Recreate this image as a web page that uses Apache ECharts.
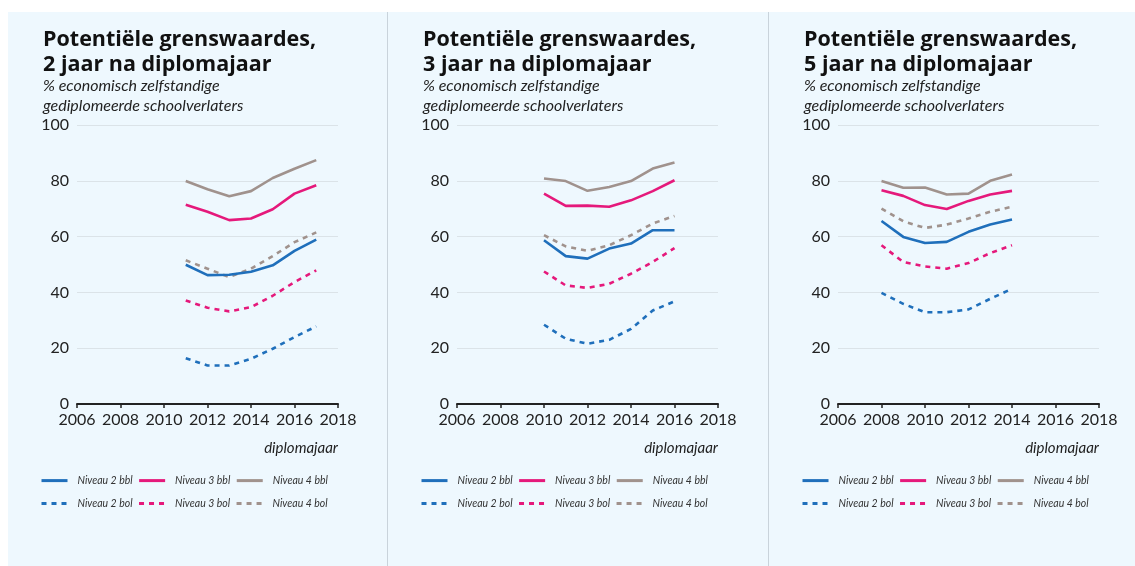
<!DOCTYPE html>
<html>
<head>
<meta charset="utf-8">
<script src="https://cdn.jsdelivr.net/npm/echarts@6/dist/echarts.min.js"></script>
<style>
html,body{margin:0;padding:0;background:#ffffff;}
#c{width:1135px;height:566px;}
</style>
</head>
<body>
<div id="c"></div>
<script>
// ---------- data ----------
const panelTitles = ["Potentiële grenswaardes,\n2 jaar na diplomajaar",
                     "Potentiële grenswaardes,\n3 jaar na diplomajaar",
                     "Potentiële grenswaardes,\n5 jaar na diplomajaar"];
const subTitle = "% economisch zelfstandige\ngediplomeerde schoolverlaters";
const xAxisName = "diplomajaar";
const seriesNames = ["Niveau 2 bbl", "Niveau 3 bbl", "Niveau 4 bbl", "Niveau 2 bol", "Niveau 3 bol", "Niveau 4 bol"];

const years2 = [2011, 2012, 2013, 2014, 2015, 2016, 2017];
const p2_n2bbl = [49.9, 46.2, 46.3, 47.4, 49.7, 54.9, 58.9];
const p2_n3bbl = [71.4, 68.9, 65.9, 66.5, 69.8, 75.4, 78.4];
const p2_n4bbl = [79.9, 77.0, 74.5, 76.3, 81.0, 84.3, 87.4];
const p2_n2bol = [16.4, 13.8, 13.8, 16.2, 19.8, 24.0, 27.8];
const p2_n3bol = [37.1, 34.5, 33.2, 34.7, 38.8, 43.7, 47.9];
const p2_n4bol = [51.5, 48.5, 45.5, 48.5, 53.0, 58.0, 61.5];

const years3 = [2010, 2011, 2012, 2013, 2014, 2015, 2016];
const p3_n2bbl = [58.7, 53.0, 52.1, 55.7, 57.5, 62.3, 62.3];
const p3_n3bbl = [75.4, 71.0, 71.1, 70.7, 73.0, 76.3, 80.2];
const p3_n4bbl = [80.8, 79.9, 76.4, 77.8, 79.9, 84.4, 86.6];
const p3_n2bol = [28.4, 23.4, 21.6, 23.0, 26.9, 33.5, 36.8];
const p3_n3bol = [47.5, 42.5, 41.6, 43.1, 46.7, 50.9, 55.9];
const p3_n4bol = [60.5, 56.5, 54.9, 56.9, 60.5, 64.7, 67.4];

const years5 = [2008, 2009, 2010, 2011, 2012, 2013, 2014];
const p5_n2bbl = [65.6, 59.9, 57.7, 58.1, 61.7, 64.3, 66.1];
const p5_n3bbl = [76.6, 74.6, 71.3, 69.9, 72.8, 75.1, 76.4];
const p5_n4bbl = [79.9, 77.5, 77.6, 75.1, 75.4, 80.0, 82.3];
const p5_n2bol = [39.8, 35.9, 32.9, 32.9, 33.9, 37.7, 41.3];
const p5_n3bol = [56.9, 50.9, 49.3, 48.5, 50.5, 54.1, 56.9];
const p5_n4bol = [70.0, 65.5, 63.1, 64.3, 66.5, 68.9, 70.7];

const xTicks = [2006, 2008, 2010, 2012, 2014, 2016, 2018];
const yTicks = [0, 20, 40, 60, 80, 100];

// ---------- styling ----------
const FONT = "Lato";
const TFONT = "Open Sans";
const colors = ["#1f6fbb", "#e5197b", "#a0928d", "#1f6fbb", "#e5197b", "#a0928d"];
const panels = [
  {years: years2, vals: [p2_n2bbl, p2_n3bbl, p2_n4bbl, p2_n2bol, p2_n3bol, p2_n4bol]},
  {years: years3, vals: [p3_n2bbl, p3_n3bbl, p3_n4bbl, p3_n2bol, p3_n3bol, p3_n4bol]},
  {years: years5, vals: [p5_n2bbl, p5_n3bbl, p5_n4bbl, p5_n2bol, p5_n3bol, p5_n4bol]}
];
const gridLeft = [77, 457, 838];
const panelLeft = [38, 418, 799];
const legendLeft = [35, 415, 796];
const gridW = 261;

const chart = echarts.init(document.getElementById('c'), null, {renderer: 'canvas'});

const grids = [], xAxes = [], yAxes = [], series = [], titles = [], legends = [];
panels.forEach((p, i) => {
  grids.push({left: gridLeft[i], top: 125, width: gridW, height: 279, containLabel: false});
  xAxes.push({
    type: 'value', gridIndex: i, min: xTicks[0], max: xTicks[xTicks.length - 1], interval: 2,
    axisLine: {show: true, lineStyle: {color: '#222', width: 2}},
    axisTick: {show: true, length: 4, lineStyle: {color: '#222', width: 1.5}},
    axisLabel: {color: '#222', fontFamily: FONT, fontSize: 16, margin: 8, formatter: v => String(v)},
    splitLine: {show: false},
    name: xAxisName, nameLocation: 'end', nameGap: 0,
    nameTextStyle: {fontFamily: FONT, fontStyle: 'italic', fontSize: 15, color: '#222',
      align: 'right', verticalAlign: 'top', padding: [37, 0, 0, 0]}
  });
  yAxes.push({
    type: 'value', gridIndex: i, min: 0, max: 100, interval: 20,
    axisLine: {show: false}, axisTick: {show: false},
    axisLabel: {color: '#222', fontFamily: FONT, fontSize: 16, margin: 8},
    splitLine: {show: true, lineStyle: {color: '#dbe3e8', width: 1}}
  });
  p.vals.forEach((v, k) => {
    series.push({
      type: 'line', name: seriesNames[k], xAxisIndex: i, yAxisIndex: i,
      data: p.years.map((y, j) => [y, v[j]]),
      symbol: 'none', smooth: false,
      lineStyle: {color: colors[k], width: 2.6, type: k < 3 ? 'solid' : [5, 5]},
      itemStyle: {color: colors[k]},
      z: k < 3 ? 3 : 2
    });
  });
  titles.push({
    text: panelTitles[i], left: panelLeft[i], top: 22,
    textStyle: {fontFamily: TFONT, fontWeight: 'bold', fontSize: 21.5, color: '#111', lineHeight: 25}
  });
  titles.push({
    text: subTitle, left: panelLeft[i], top: 71,
    textStyle: {fontFamily: FONT, fontStyle: 'italic', fontWeight: 'normal', fontSize: 16, color: '#222', lineHeight: 20}
  });
  [0, 1].forEach(r => {
    legends.push({
      left: legendLeft[i], top: r === 0 ? 470 : 493, orient: 'horizontal',
      itemWidth: 26, itemHeight: 14, itemGap: 5,
      itemStyle: {opacity: 0},
      lineStyle: {width: 3},
      data: seriesNames.slice(r * 3, r * 3 + 3),
      textStyle: {fontFamily: FONT, fontStyle: 'italic', fontSize: 10.5, color: '#333', width: 72, padding: [0, 0, 0, 5]}
    });
  });
});

chart.setOption({
  animation: false,
  backgroundColor: '#ffffff',
  graphic: [
    {type: 'rect', shape: {x: 8, y: 12, width: 1127, height: 554}, style: {fill: '#eef8fe'}, z: -10, silent: true},
    {type: 'line', shape: {x1: 387.5, y1: 12, x2: 387.5, y2: 566}, style: {stroke: '#c9d3db', lineWidth: 1}, z: -9, silent: true},
    {type: 'line', shape: {x1: 768.5, y1: 12, x2: 768.5, y2: 566}, style: {stroke: '#c9d3db', lineWidth: 1}, z: -9, silent: true}
  ],
  title: titles,
  legend: legends,
  grid: grids,
  xAxis: xAxes,
  yAxis: yAxes,
  series: series
});
</script>
</body>
</html>
